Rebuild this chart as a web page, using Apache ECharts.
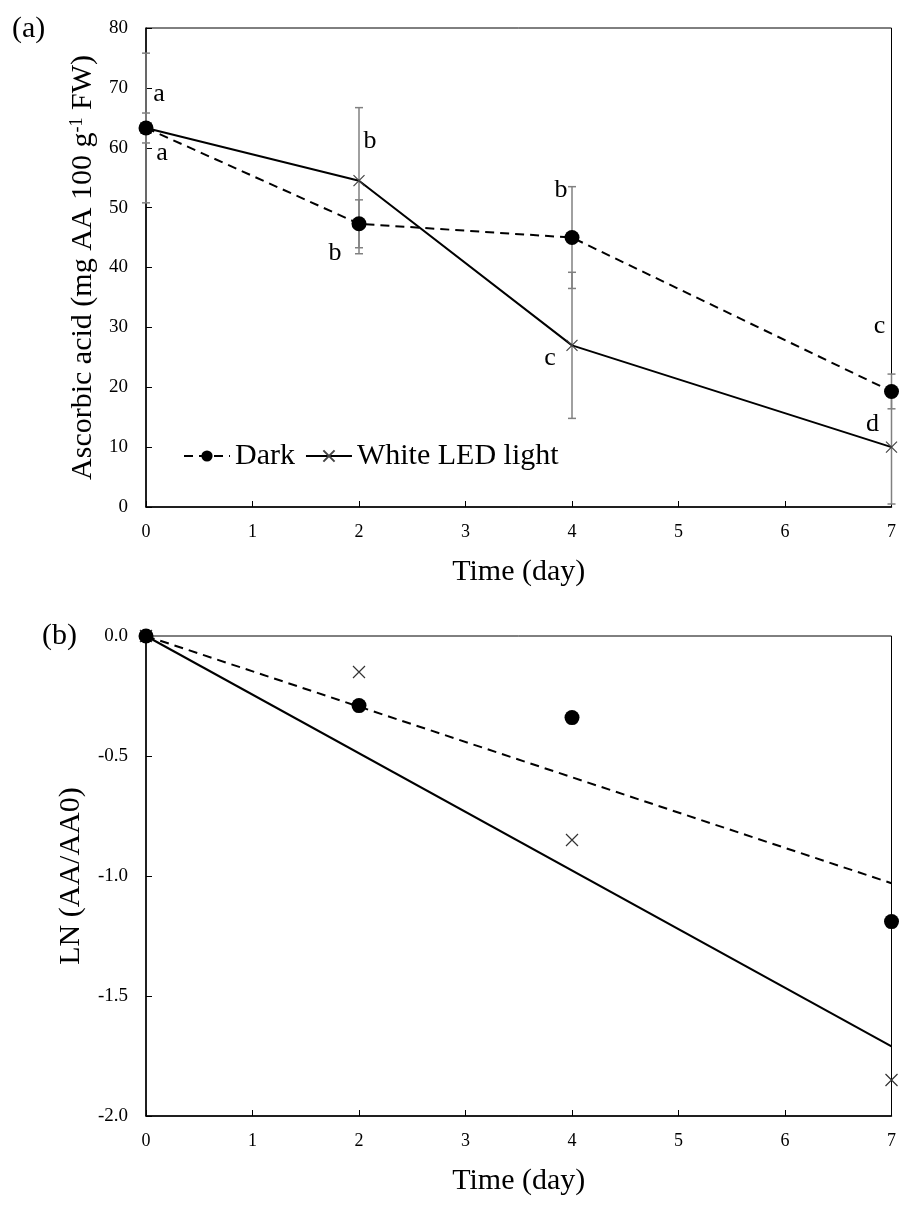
<!DOCTYPE html>
<html><head><meta charset="utf-8">
<script src="https://cdn.jsdelivr.net/npm/echarts/dist/echarts.min.js"></script>
<style>html,body{margin:0;padding:0;background:#fff}#c{width:899px;height:1213px}</style>
</head><body><div id="c"></div>
<script>
// ---- data ----
const days = [0, 2, 4, 7];
const darkAA = [63.3, 47.3, 45.0, 19.3];
const darkErr = [2.5, 4.0, 8.5, 2.9];
const ledAA = [63.3, 54.5, 27.0, 10.0];
const ledErr = [12.5, 12.2, 12.2, 9.5];
const darkLetters = ['a', 'b', 'b', 'c'];
const ledLetters = ['a', 'b', 'c', 'd'];
const darkLn = [0, -0.29, -0.34, -1.19];
const ledLn = [0, -0.15, -0.85, -1.85];
const trendDays = [0, 7];
const darkTrend = [0, -1.03];
const ledTrend = [0, -1.71];
const xTickLabels = ['0', '1', '2', '3', '4', '5', '6', '7'];
const yTickLabelsA = ['0', '10', '20', '30', '40', '50', '60', '70', '80'];
const yTickLabelsB = ['-2.0', '-1.5', '-1.0', '-0.5', '0.0'];

// ---- style (label offsets in px) ----
const darkLetterOffset = [[16, 25], [-24, 29], [-11, -47], [-12, -65]];
const ledLetterOffset = [[13, -34], [11, -40], [-22, 13], [-19, -23]];

const FONT = '"Liberation Serif","Times New Roman",serif';
const CROSS = 'path://M0 0 L10 10 M10 0 L0 10';

function xAxis(gi) {
  return {
    type: 'value', gridIndex: gi, min: 0, max: 7, interval: 1,
    name: 'Time (day)', nameLocation: 'middle', nameGap: 50,
    nameTextStyle: { fontFamily: FONT, fontSize: 30, color: '#000' },
    axisLine: { show: true, onZero: false, lineStyle: { color: '#000', width: 1.5 } },
    axisTick: { show: true, inside: true, length: 6, lineStyle: { color: '#000' } },
    axisLabel: { fontFamily: FONT, fontSize: 18, color: '#000', margin: 16,
      formatter: v => xTickLabels[Math.round(v)] },
    splitLine: { show: false }
  };
}

const option = {
  animation: false,
  backgroundColor: '#fff',
  grid: [
    { left: 146, right: 7, top: 28, height: 479, show: true, borderColor: '#000', borderWidth: 1 },
    { left: 146, right: 7, top: 636, height: 480, show: true, borderColor: '#000', borderWidth: 1 }
  ],
  graphic: [
    { type: 'text', left: 12, top: 14, style: { text: '(a)', font: '30px ' + FONT, fill: '#000' } },
    { type: 'text', left: 42, top: 621, style: { text: '(b)', font: '30px ' + FONT, fill: '#000' } }
  ],
  legend: {
    data: ['Dark', 'White LED light'],
    left: 178, top: 436, itemWidth: 46, itemHeight: 14, itemGap: 10,
    textStyle: { fontFamily: FONT, fontSize: 30, color: '#000' }
  },
  xAxis: [xAxis(0), xAxis(1)],
  yAxis: [
    {
      type: 'value', gridIndex: 0, min: 0, max: 80, interval: 10,
      name: 'Ascorbic acid (mg AA 100 g{sup|-1} FW)', nameLocation: 'middle', nameGap: 40,
      nameTextStyle: { fontFamily: FONT, fontSize: 30, color: '#000',
        rich: { sup: { fontFamily: FONT, fontSize: 18, color: '#000', verticalAlign: 'top' } } },
      axisLine: { show: true, lineStyle: { color: '#000', width: 1.5 } },
      axisTick: { show: true, inside: true, length: 6, lineStyle: { color: '#000' } },
      axisLabel: { fontFamily: FONT, fontSize: 19, color: '#000', margin: 18,
        formatter: v => yTickLabelsA[Math.round(v / 10)] },
      splitLine: { show: false }
    },
    {
      type: 'value', gridIndex: 1, min: -2, max: 0, interval: 0.5,
      name: 'LN (AA/AA0)', nameLocation: 'middle', nameGap: 60,
      nameTextStyle: { fontFamily: FONT, fontSize: 30, color: '#000' },
      axisLine: { show: true, onZero: false, lineStyle: { color: '#000', width: 1.5 } },
      axisTick: { show: true, inside: true, length: 6, lineStyle: { color: '#000' } },
      axisLabel: { fontFamily: FONT, fontSize: 19, color: '#000', margin: 18,
        formatter: v => yTickLabelsB[Math.round((v + 2) / 0.5)] },
      splitLine: { show: false }
    }
  ],
  series: []
};

function errBars(name, vals, errs) {
  return {
    type: 'custom', name: name + ' err', xAxisIndex: 0, yAxisIndex: 0, z: 1, clip: false,
    data: days.map((d, i) => [d, vals[i], errs[i]]),
    renderItem: function (params, api) {
      const x = api.value(0), y = api.value(1), e = api.value(2);
      const t = api.coord([x, y + e]), b = api.coord([x, y - e]);
      const st = { stroke: '#808080', lineWidth: 1.5 };
      const w = 4;
      return { type: 'group', children: [
        { type: 'line', shape: { x1: t[0], y1: t[1], x2: b[0], y2: b[1] }, style: st },
        { type: 'line', shape: { x1: t[0] - w, y1: t[1], x2: t[0] + w, y2: t[1] }, style: st },
        { type: 'line', shape: { x1: b[0] - w, y1: b[1], x2: b[0] + w, y2: b[1] }, style: st }
      ] };
    }
  };
}

option.series.push(errBars('Dark', darkAA, darkErr));
option.series.push(errBars('White LED light', ledAA, ledErr));

function letterItems(vals, letters, offs) {
  return days.map((d, i) => ({
    value: [d, vals[i]],
    label: { show: true, position: 'inside', formatter: letters[i], offset: offs[i],
      fontFamily: FONT, fontSize: 26, color: '#000' }
  }));
}

option.series.push({
  type: 'line', name: 'White LED light', xAxisIndex: 0, yAxisIndex: 0, z: 3,
  data: letterItems(ledAA, ledLetters, ledLetterOffset),
  symbol: CROSS, symbolSize: 11,
  itemStyle: { color: '#000', borderColor: '#444', borderWidth: 1.2 },
  lineStyle: { color: '#000', width: 2, type: 'solid' }
});
option.series.push({
  type: 'line', name: 'Dark', xAxisIndex: 0, yAxisIndex: 0, z: 4,
  data: letterItems(darkAA, darkLetters, darkLetterOffset),
  symbol: 'circle', symbolSize: 15,
  itemStyle: { color: '#000' },
  lineStyle: { color: '#000', width: 2, type: [9, 6] }
});

// panel (b)
option.series.push({
  type: 'line', name: 'Dark trend', xAxisIndex: 1, yAxisIndex: 1, z: 2, showSymbol: false,
  data: trendDays.map((d, i) => [d, darkTrend[i]]),
  lineStyle: { color: '#000', width: 2, type: [9, 6] }
});
option.series.push({
  type: 'line', name: 'LED trend', xAxisIndex: 1, yAxisIndex: 1, z: 2, showSymbol: false,
  data: trendDays.map((d, i) => [d, ledTrend[i]]),
  lineStyle: { color: '#000', width: 2 }
});
option.series.push({
  type: 'scatter', name: 'LED ln', xAxisIndex: 1, yAxisIndex: 1, z: 3,
  data: days.map((d, i) => [d, ledLn[i]]),
  symbol: CROSS, symbolSize: 12,
  itemStyle: { color: 'transparent', borderColor: '#333', borderWidth: 1.2, opacity: 1 }
});
option.series.push({
  type: 'scatter', name: 'Dark ln', xAxisIndex: 1, yAxisIndex: 1, z: 4,
  data: days.map((d, i) => [d, darkLn[i]]),
  symbol: 'circle', symbolSize: 15,
  itemStyle: { color: '#000', opacity: 1 }
});

const chart = echarts.init(document.getElementById('c'));
chart.setOption(option);
</script>
</body></html>
